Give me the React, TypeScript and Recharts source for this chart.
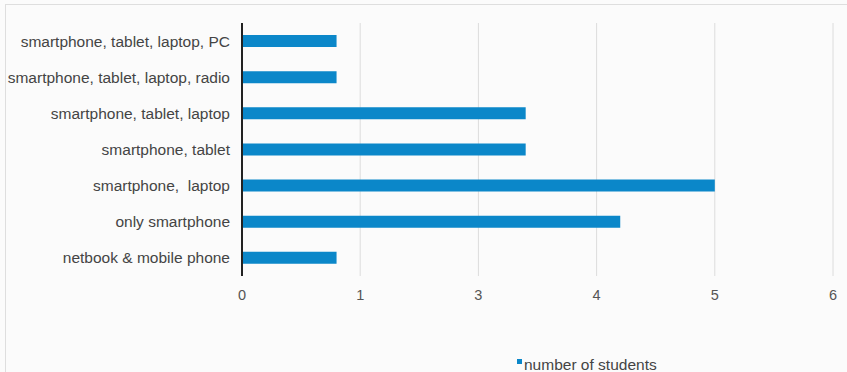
import { BarChart, Bar, XAxis, YAxis, CartesianGrid } from 'recharts';

// device combinations, top to bottom
const categories = [
  'smartphone, tablet, laptop, PC',
  'smartphone, tablet, laptop, radio',
  'smartphone, tablet, laptop',
  'smartphone, tablet',
  'smartphone,\u00a0 laptop',
  'only smartphone',
  'netbook & mobile phone',
];

// bar lengths measured in tick steps along the axis
const students = [0.8, 0.8, 2.4, 2.4, 4, 3.2, 0.8];

// the axis is printed with these labels at its evenly spaced ticks
const tickPositions = [0, 1, 2, 3, 4, 5];
const tickLabels = ['0', '1', '3', '4', '5', '6'];

const BAR_COLOR = '#0b87c9';
const FONT = '"Liberation Sans", Arial, Helvetica, sans-serif';

const data = categories.map((name, i) => ({ name, students: students[i] }));

export default function App() {
  return (
    <div
      style={{
        position: 'absolute',
        left: 0,
        top: 0,
        width: 847,
        height: 372,
        background: '#fbfbfb',
        fontFamily: FONT,
        overflow: 'hidden',
      }}
    >
      <div
        style={{
          position: 'absolute',
          left: 5,
          top: 4,
          right: -2,
          bottom: -2,
          borderTop: '1px solid #dedede',
          borderLeft: '1px solid #dedede',
        }}
      />
      <BarChart
        width={847}
        height={372}
        data={data}
        layout="vertical"
        margin={{ top: 23, right: 14, left: 0, bottom: 66 }}
        barCategoryGap={0}
      >
        <CartesianGrid horizontal={false} stroke="#dcdcdc" strokeWidth={1} />
        <XAxis
          type="number"
          domain={[0, 5]}
          ticks={tickPositions}
          tickFormatter={(v: number) => tickLabels[v]}
          axisLine={false}
          tickLine={false}
          tickMargin={8}
          height={30}
          tick={{ fontSize: 14.5, fill: '#555', fontFamily: FONT }}
        />
        <YAxis
          type="category"
          dataKey="name"
          width={242}
          axisLine={{ stroke: '#222', strokeWidth: 2 }}
          tickLine={false}
          tickMargin={6}
          interval={0}
          tick={{ fontSize: 15.5, fill: '#444', fontFamily: FONT }}
        />
        <Bar dataKey="students" fill={BAR_COLOR} barSize={12} isAnimationActive={false} />
      </BarChart>
      <div
        style={{
          position: 'absolute',
          left: 517,
          top: 356,
          display: 'flex',
          alignItems: 'center',
          fontSize: 15.5,
          color: '#444',
        }}
      >
        <span
          style={{
            display: 'inline-block',
            width: 5,
            height: 5,
            background: BAR_COLOR,
            marginRight: 2,
            marginTop: -7,
          }}
        />
        <span>number of students</span>
      </div>
    </div>
  );
}
